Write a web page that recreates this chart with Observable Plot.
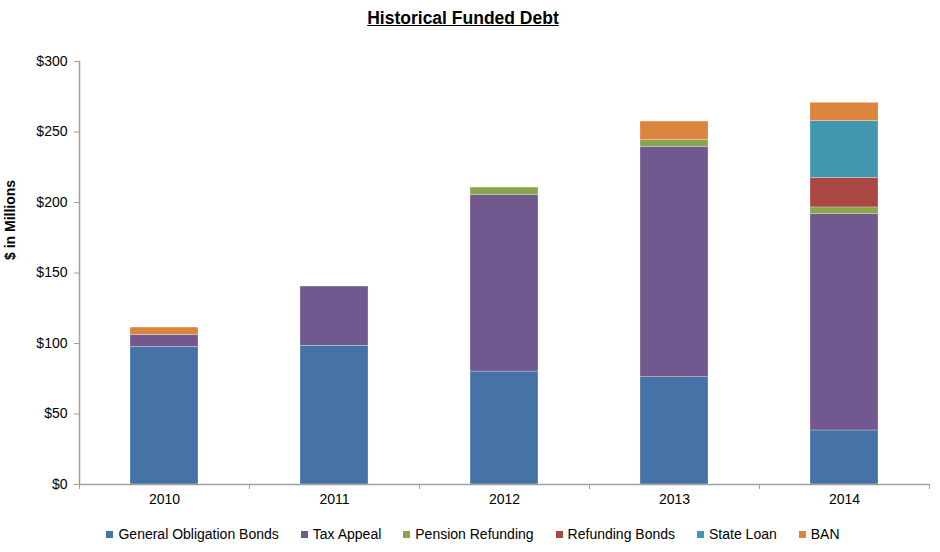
<!DOCTYPE html>
<html>
<head>
<meta charset="utf-8">
<script src="https://cdn.jsdelivr.net/npm/d3@7"></script>
<script src="https://cdn.jsdelivr.net/npm/@observablehq/plot@0.6"></script>
<style>
  html, body { margin: 0; padding: 0; background: #fff; }
  body { width: 940px; height: 552px; overflow: hidden; font-family: "Liberation Sans", Arial, sans-serif; }
  #title { height: 36px; line-height: 36px; width: 926px; text-align: center; font-weight: bold; font-size: 17.5px; text-decoration: underline; color: #000; }
  #legend { height: 36px; display: flex; justify-content: center; align-items: center; gap: 22px; font-size: 14px; color: #000; padding-left: 6px; }
  #legend .item { display: flex; align-items: center; gap: 5px; }
  #legend .sw { width: 7px; height: 7px; display: inline-block; }
</style>
</head>
<body>
<div id="title">Historical Funded Debt</div>
<div id="chart"></div>
<div id="legend"></div>
<script>
const years = ["2010", "2011", "2012", "2013", "2014"];
const series = ["General Obligation Bonds", "Tax Appeal", "Pension Refunding", "Refunding Bonds", "State Loan", "BAN"];
const generalObligation = [97.5, 98.4, 80.1, 76.1, 38.3];
const taxAppeal = [8.6, 42.0, 125.1, 163.4, 153.4];
const pensionRefunding = [0, 0, 5.4, 4.7, 4.8];
const refundingBonds = [0, 0, 0, 0, 21.0];
const stateLoan = [0, 0, 0, 0, 40.2];
const ban = [5.2, 0, 0, 13.2, 13.0];
const yTicks = [0, 50, 100, 150, 200, 250, 300];
const colors = ["#4572A7", "#71588F", "#89A54E", "#AA4643", "#4198AF", "#DB843D"];

const seriesValues = [generalObligation, taxAppeal, pensionRefunding, refundingBonds, stateLoan, ban];
const data = [];
years.forEach((year, i) => {
  series.forEach((s, j) => {
    data.push({year, series: s, value: seriesValues[j][i]});
  });
});

const width = 940, marginLeft = 79, marginRight = 11;
const step = (width - marginLeft - marginRight) / years.length;
const axisGray = "#a0a0a0";

const chart = Plot.plot({
  width, height: 480,
  marginLeft, marginRight, marginTop: 25, marginBottom: 32,
  style: {fontFamily: "'Liberation Sans', Arial, sans-serif", fontSize: "14px", color: "#000", background: "#fff"},
  x: {domain: years, paddingInner: 0.6, paddingOuter: 0.3, label: null, axis: null},
  y: {domain: [0, 300], label: null, axis: null},
  color: {domain: series, range: colors},
  marks: [
    Plot.barY(data, {x: "year", y: "value", fill: "series", order: series, stroke: "#ffffff", strokeOpacity: 0.45, strokeWidth: 0.6}),
    Plot.axisY(yTicks, {tickFormat: d => "$" + d, tickSize: 5, tickPadding: 7, stroke: axisGray, fill: "#000", label: null}),
    Plot.axisX({tickSize: 0, tickPadding: 10, fill: "#000", label: null}),
    Plot.axisX(years, {tickSize: 5, tickFormat: () => "", dx: -step / 2, stroke: axisGray, label: null}),
    Plot.axisX([years[years.length - 1]], {tickSize: 5, tickFormat: () => "", dx: step / 2, stroke: axisGray, label: null}),
    Plot.frame({anchor: "left", stroke: axisGray, strokeWidth: 1.5}),
    Plot.frame({anchor: "bottom", stroke: axisGray, strokeWidth: 1.5}),
    Plot.text(["$ in Millions"], {frameAnchor: "left", rotate: -90, dx: -69, dy: -13, fontWeight: "bold", fontSize: 14, fill: "#000"})
  ]
});
document.getElementById("chart").appendChild(chart);

const legend = document.getElementById("legend");
series.forEach((s, i) => {
  const item = document.createElement("div");
  item.className = "item";
  const sw = document.createElement("span");
  sw.className = "sw";
  sw.style.background = colors[i];
  const label = document.createElement("span");
  label.textContent = s;
  item.appendChild(sw);
  item.appendChild(label);
  legend.appendChild(item);
});
</script>
</body>
</html>
